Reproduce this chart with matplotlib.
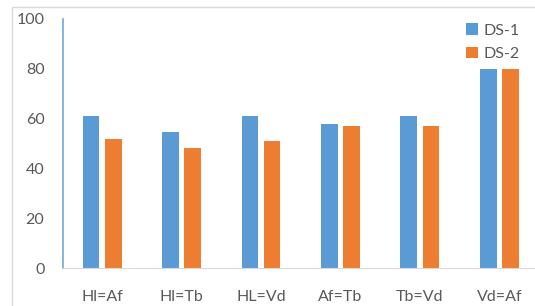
import numpy as np
import matplotlib.pyplot as plt
from matplotlib.patches import Rectangle

cats = ['Hl=Af', 'Hl=Tb', 'HL=Vd', 'Af=Tb', 'Tb=Vd', 'Vd=Af']
ds1 = [61, 54.5, 61, 58, 61, 80]
ds2 = [52, 48, 51, 57, 57, 80]
yticks = [0, 20, 40, 60, 80, 100]

W, H = 535, 306
fig = plt.figure(figsize=(W/100, H/100), dpi=100)
plt.rcParams['font.family'] = ['Lato', 'DejaVu Sans']

# outer frame (runs off right/bottom edges)
fig.patches.append(Rectangle((12/W, -0.1), 1.2, (H-7)/H + 0.1, transform=fig.transFigure,
                             fill=False, edgecolor='#d9d9d9', lw=1))

x0, x1 = 62.5, 539
y0, y1 = 268, 19
ax = fig.add_axes([x0/W, 1-y0/H, (x1-x0)/W, (y0-y1)/H])
ax.patch.set_alpha(0)

x = np.arange(len(cats))
bw = 0.21
ax.bar(x - 0.14, ds1, bw, color='#5b9bd5', label='DS-1')
ax.bar(x + 0.14, ds2, bw, color='#ed7d31', label='DS-2')

ax.set_xlim(-0.5, len(cats) - 0.5)
ax.set_ylim(0, 100)
ax.set_yticks(yticks)
ax.set_xticks(x)
ax.set_xticklabels(cats)
ax.tick_params(axis='both', length=0, labelsize=11.5, colors='#595959')
ax.tick_params(axis='y', pad=13)
ax.tick_params(axis='x', pad=16)

for s in ['top', 'right']:
    ax.spines[s].set_visible(False)
ax.spines['left'].set_color('#6fa8dc')
ax.spines['left'].set_linewidth(1.2)
ax.spines['bottom'].set_color('#d9d9d9')

ax.legend(loc='upper left', bbox_to_anchor=(452/W, 1-9/H), bbox_transform=fig.transFigure,
          frameon=False, fontsize=11.5, handlelength=0.7, handleheight=0.7,
          handletextpad=0.4, labelspacing=0.6, labelcolor='#595959')

fig.savefig('out.png', dpi=100)
